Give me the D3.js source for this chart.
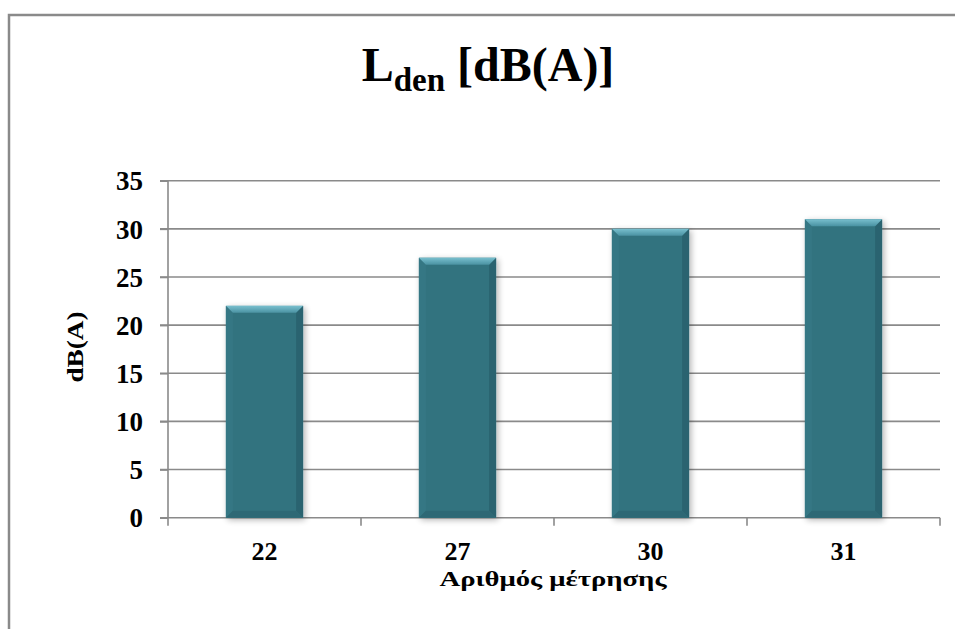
<!DOCTYPE html>
<html>
<head>
<meta charset="utf-8">
<script src="https://cdn.jsdelivr.net/npm/d3@7"></script>
<style>
  html, body { margin: 0; padding: 0; background: #fff; }
  svg { display: block; }
  text { font-family: "Liberation Serif", "DejaVu Serif", serif; font-weight: bold; fill: #000; }
</style>
</head>
<body>
<svg id="chart" width="955" height="629"></svg>
<script>
// Measurement points and their L_den level
const categories = ["22", "27", "30", "31"];
const values = [22, 27, 30, 31];
const yTicks = [0, 5, 10, 15, 20, 25, 30, 35];
const titleMain = "L";
const titleSub = "den";
const titleRest = " [dB(A)]";
const yLabel = "dB(A)";
const xLabel = "Αριθμός μέτρησης";

const svg = d3.select("#chart");
const W = 955, H = 629;
const plot = { left: 168, right: 940, top: 180.7, bottom: 517.7 };

// Chart frame
svg.append("rect")
  .attr("x", 9).attr("y", 15)
  .attr("width", W + 20).attr("height", H + 20)
  .attr("fill", "#fff")
  .attr("stroke", "#8a8a8a").attr("stroke-width", 2.5);

// Scales
const x = d3.scaleBand()
  .domain(categories)
  .range([plot.left, plot.right])
  .paddingInner(0.6)
  .paddingOuter(0.3);

const y = d3.scaleLinear()
  .domain([0, 35])
  .range([plot.bottom, plot.top]);

const gridColor = "#8a8a8a";

// Horizontal gridlines
svg.append("g")
  .selectAll("line")
  .data(yTicks.filter(d => d > 0))
  .join("line")
  .attr("x1", plot.left - 8).attr("x2", plot.right)
  .attr("y1", d => y(d)).attr("y2", d => y(d))
  .attr("stroke", gridColor).attr("stroke-width", 1.6);

// Y axis
const yAxis = d3.axisLeft(y).tickValues(yTicks).tickSize(8).tickPadding(17);
const gy = svg.append("g")
  .attr("transform", `translate(${plot.left},0)`)
  .call(yAxis);
gy.select(".domain").remove();
gy.append("line")
  .attr("x1", 0).attr("x2", 0)
  .attr("y1", plot.top).attr("y2", plot.bottom + 8)
  .attr("stroke", gridColor).attr("stroke-width", 1.6);
gy.selectAll(".tick line").attr("stroke", gridColor).attr("stroke-width", 1.6);
gy.selectAll(".tick text")
  .attr("font-size", 27)
  .attr("font-family", "Liberation Serif, serif")
  .attr("font-weight", "bold")
  .attr("fill", "#000")
  .attr("dy", "0.34em");

// X axis line with ticks at category boundaries
const gx = svg.append("g");
gx.append("line")
  .attr("x1", plot.left - 8).attr("x2", plot.right)
  .attr("y1", plot.bottom).attr("y2", plot.bottom)
  .attr("stroke", gridColor).attr("stroke-width", 1.6);
const step = x.step();
const boundaries = d3.range(categories.length + 1).map(i => plot.left + i * step);
gx.selectAll("line.tk")
  .data(boundaries.slice(1))
  .join("line")
  .attr("class", "tk")
  .attr("x1", d => d).attr("x2", d => d)
  .attr("y1", plot.bottom).attr("y2", plot.bottom + 8)
  .attr("stroke", gridColor).attr("stroke-width", 1.6);

// X tick labels
gx.selectAll("text.cat")
  .data(categories)
  .join("text")
  .attr("class", "cat")
  .attr("x", d => x(d) + x.bandwidth() / 2)
  .attr("y", 559.5)
  .attr("text-anchor", "middle")
  .attr("font-size", 26)
  .text(d => d);

// Bars with bevel
const defs = svg.append("defs");
const shadow = defs.append("filter").attr("id", "shadow")
  .attr("x", "-20%").attr("y", "-10%").attr("width", "140%").attr("height", "120%");
shadow.append("feGaussianBlur").attr("in", "SourceAlpha").attr("stdDeviation", 3).attr("result", "b");
shadow.append("feOffset").attr("in", "b").attr("dx", 2).attr("dy", 2).attr("result", "o");
shadow.append("feComponentTransfer").attr("in", "o").attr("result", "s")
  .append("feFuncA").attr("type", "linear").attr("slope", 0.3);
const m = shadow.append("feMerge");
m.append("feMergeNode").attr("in", "s");
m.append("feMergeNode").attr("in", "SourceGraphic");

const topGrad = defs.append("linearGradient").attr("id", "topBevel")
  .attr("x1", 0).attr("y1", 0).attr("x2", 0).attr("y2", 1);
topGrad.append("stop").attr("offset", 0).attr("stop-color", "#78bfce");
topGrad.append("stop").attr("offset", 1).attr("stop-color", "#4a92a2");

const body = "#33737f";

const bars = svg.append("g")
  .selectAll("g")
  .data(categories.map((c, i) => ({ c, v: values[i] })))
  .join("g")
  .attr("filter", "url(#shadow)");

const b = 7;
bars.each(function(d) {
  const g = d3.select(this);
  const x0 = x(d.c), x1 = x(d.c) + x.bandwidth();
  const y0 = y(d.v), y1 = y(0);
  g.append("rect")
    .attr("x", x0).attr("y", y0)
    .attr("width", x1 - x0).attr("height", y1 - y0)
    .attr("fill", body);
  // left bevel
  g.append("polygon")
    .attr("points", [[x0, y0], [x0 + b, y0 + b], [x0 + b, y1 - b], [x0, y1]].join(" "))
    .attr("fill", "#367784");
  // right bevel
  g.append("polygon")
    .attr("points", [[x1, y0], [x1 - b, y0 + b], [x1 - b, y1 - b], [x1, y1]].join(" "))
    .attr("fill", "#2b6470");
  // bottom bevel
  g.append("polygon")
    .attr("points", [[x0, y1], [x0 + b, y1 - b], [x1 - b, y1 - b], [x1, y1]].join(" "))
    .attr("fill", "#2d6874");
  // top bevel
  g.append("polygon")
    .attr("points", [[x0, y0], [x1, y0], [x1 - b, y0 + b], [x0 + b, y0 + b]].join(" "))
    .attr("fill", "url(#topBevel)");
});

// Title with subscript
const title = svg.append("text")
  .attr("x", 488).attr("y", 81)
  .attr("text-anchor", "middle")
  .attr("font-size", 48);
title.append("tspan").text(titleMain);
title.append("tspan").attr("font-size", 33).attr("dy", 10).text(titleSub);
title.append("tspan").attr("dy", -10).text(titleRest);

// Axis titles
svg.append("text")
  .attr("transform", "translate(83,347) rotate(-90)")
  .attr("text-anchor", "middle")
  .attr("font-size", 24)
  .attr("textLength", 71)
  .attr("lengthAdjust", "spacingAndGlyphs")
  .text(yLabel);

svg.append("text")
  .attr("x", 553).attr("y", 586)
  .attr("text-anchor", "middle")
  .attr("font-size", 22)
  .attr("textLength", 227)
  .attr("lengthAdjust", "spacingAndGlyphs")
  .text(xLabel);
</script>
</body>
</html>
